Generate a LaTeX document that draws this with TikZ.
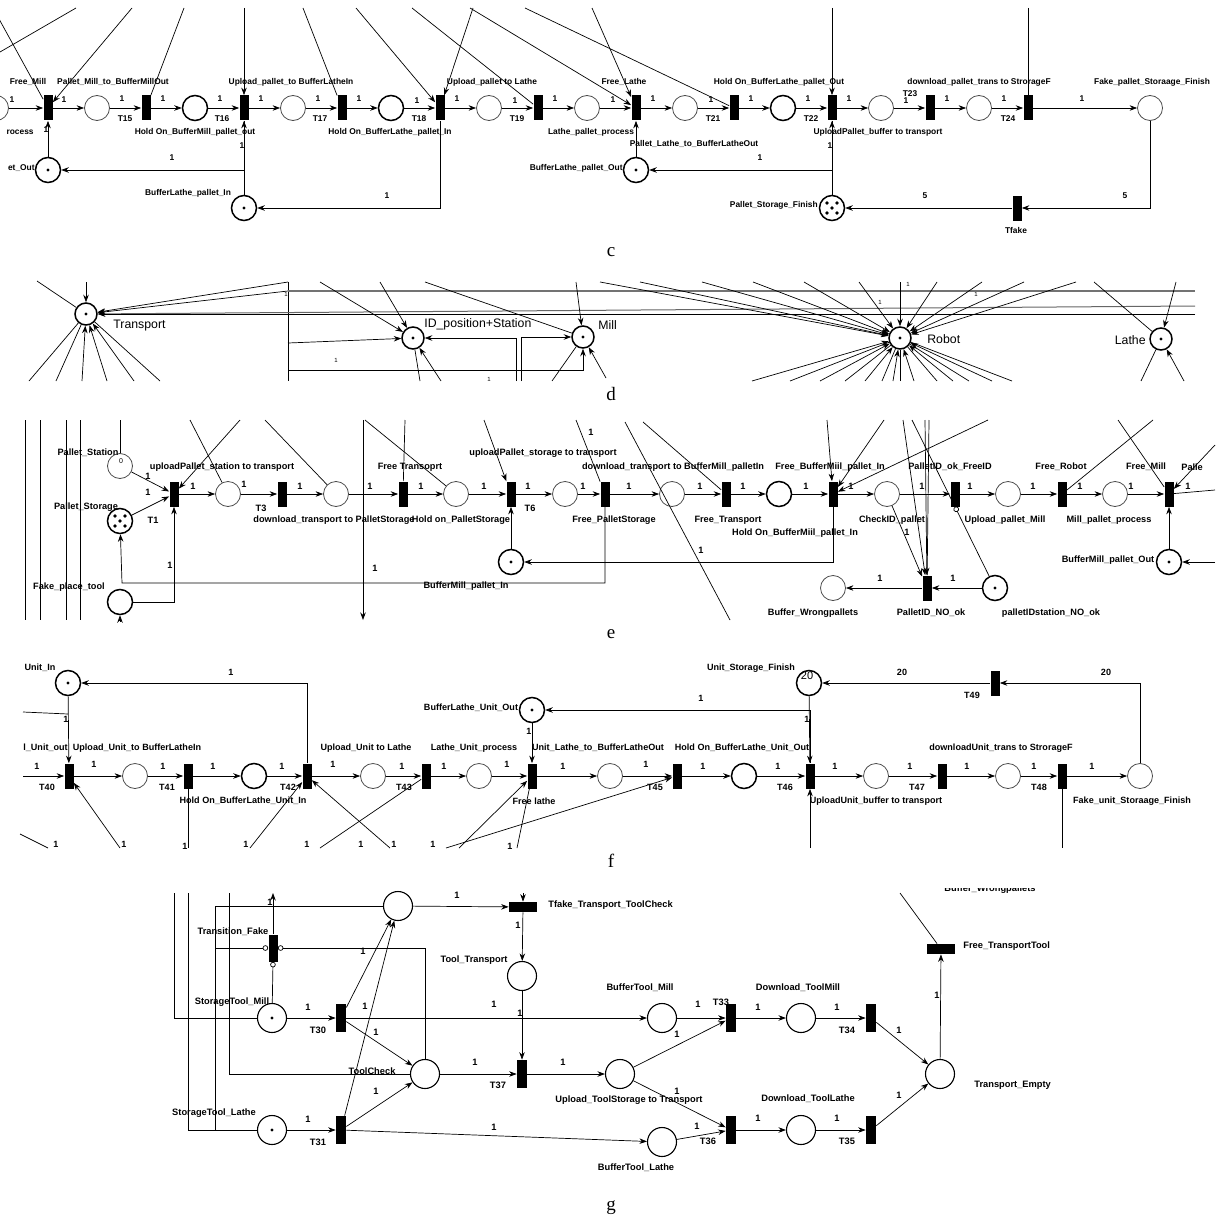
\documentclass[tikz,border=0pt]{standalone}
\usepackage{fontspec}
\setmainfont{Liberation Sans}
\newfontfamily\capfont{Liberation Serif}
\usetikzlibrary{arrows.meta}
\begin{document}
\begin{tikzpicture}[x=1pt,y=-1pt,line width=.7pt,
 pl/.style={circle,draw=black!70,line width=.8pt,minimum size=25pt,inner sep=0pt,fill=white},
 plb/.style={pl,draw=black,line width=1.5pt},
 plg/.style={pl,draw=black,line width=1.1pt,minimum size=29pt},
 tok/.style={path picture={\fill[black] (path picture bounding box.center) circle (1.7pt);}},
 five/.style={path picture={\foreach \a/\b in {0/0,5/5,5/-5,-5/5,-5/-5}{\fill[black] ([shift={(\a pt,\b pt)}]path picture bounding box.center) circle (1.9pt);}}},
 tr/.style={rectangle,fill=black,minimum width=9pt,minimum height=25pt,inner sep=0pt},
 trg/.style={tr,minimum width=10pt,minimum height=28pt},
 trh/.style={rectangle,fill=black,minimum width=28pt,minimum height=10pt,inner sep=0pt},
 lb/.style={font=\fontsize{8.4}{9}\selectfont\bfseries,inner sep=0pt},
 lbe/.style={font=\fontsize{9.2}{10}\selectfont\bfseries,inner sep=0pt},
 lbf/.style={font=\fontsize{9.05}{10}\selectfont\bfseries,inner sep=0pt},
 lbg/.style={font=\fontsize{9.3}{10}\selectfont\bfseries,inner sep=0pt},
 lbd/.style={font=\fontsize{12.3}{13}\selectfont,inner sep=0pt},
 wd/.style={font=\fontsize{6}{6}\selectfont,inner sep=0pt},
 capt/.style={font=\capfont\fontsize{19}{19}\selectfont,inner sep=0pt},
 ar/.style={-{Stealth[length=7.5pt,width=5.5pt]}},
 inh/.style={-{Circle[open,length=5.5pt,width=5.5pt]}},
]
\useasboundingbox (0,0) rectangle (1215,1220);
\fill[white] (0,0) rectangle (1215,1220);

%%%%%%%%%%%%%%%% panel c
\foreach \n/\x in {cp1/97,cp3/293,cp5/489,cp6/587,cp7/685,cp9/881,cp10/979,cp11/1150} \node[pl] (\n) at (\x,108) {};
\foreach \n/\x in {cp2/195,cp4/391,cp8/783} \node[plb] (\n) at (\x,108) {};
\node[pl] (cp0) at (-4,108) {};
\foreach \n/\x in {ct1/48,ct15/146,ct16/244,ct17/342,ct18/440,ct19/538,ct20/636,ct21/734,ct22/832,ct23/930,ct24/1028} \node[tr] (\n) at (\x,108) {};
\node[plb,tok] (cpA) at (48,170) {};
\node[plb,tok] (cpB) at (244,208) {};
\node[plb,tok] (cpC) at (636,170) {};
\node[plb,five] (cpD) at (832,208) {};
\node[tr] (ctf) at (1017,208) {};

\foreach \a/\b in {cp0/ct1,ct1/cp1,cp1/ct15,ct15/cp2,cp2/ct16,ct16/cp3,cp3/ct17,ct17/cp4,cp4/ct18,ct18/cp5,cp5/ct19,ct19/cp6,cp6/ct20,ct20/cp7,cp7/ct21,ct21/cp8,cp8/ct22,ct22/cp9,cp9/ct23,ct23/cp10,cp10/ct24,ct24/cp11,cpA/ct1,cpB/ct16,cpC/ct20,cpD/ct22,ctf/cpD} \draw[ar] (\a) -- (\b);
\draw[ar] (ct16.south) |- (cpA);
\draw[ar] (ct18.south) |- (cpB);
\draw[ar] (ct22.south) |- (cpC);
\draw[ar] (cp11.south) |- (ctf);

\foreach \n/\x/\y in {ca1/-7/8,ca2/0/52,ca3/76/8,ca4/132/8,ca5/184/8,ca6/244/8,ca7/303/8,ca8/356/8,ca9/412/8,ca10/473/8,ca11/470/8,ca12/525/8,ca13/592/8,ca14/832/8,ca15/1028/8} \coordinate (\n) at (\x,\y);
\draw (ca1) -- (ct1); \draw (ca2) -- (ca3); \draw[ar] (ca4) -- (ct1); \draw (ca5) -- (ct15);
\draw[ar] (ca6) -- (ct16); \draw (ca7) -- (ct17); \draw[ar] (ca8) -- (ct18); \draw (ca9) -- (ct19);
\draw[ar] (ca10) -- (ct18); \draw[ar] (ca11) -- (ct20); \draw (ca12) -- (ct21); \draw[ar] (ca13) -- (ct20);
\draw[ar] (ca14) -- (ct22); \draw (ca15) -- (ct24);

\foreach \x/\y/\txt [count=\i] in {28/82/Free\_Mill,113/82/Pallet\_Mill\_to\_BufferMillOut,125/119/T15,195/132/Hold On\_BufferMill\_pallet\_out,291/82/Upload\_pallet\_to BufferLatheIn,222/119/T16,320/119/T17,390/132/Hold On\_BufferLathe\_pallet\_In,419/119/T18,492/82/Upload\_pallet to Lathe,517/119/T19,591/132/Lathe\_pallet\_process,624/82/Free\_Lathe,694/144/Pallet\_Lathe\_to\_BufferLatheOut,713/119/T21,779/82/Hold On\_BufferLathe\_pallet\_Out,811/119/T22,878/132/UploadPallet\_buffer to transport,910/94/T23,979/82/download\_pallet\_trans to StrorageF,1008/119/T24,1152/82/Fake\_pallet\_Storaage\_Finish,188/193/BufferLathe\_pallet\_In,1016/230/Tfake}
 \node[lb] (cl\i) at (\x,\y) {\txt};
\node[lb,anchor=east] (clr1) at (34,132) {rocess};
\node[lb,anchor=east] (clr2) at (35,168) {et\_Out};
\node[lb,anchor=east] (clr3) at (623,168) {BufferLathe\_pallet\_Out};
\node[lb,anchor=east] (clr4) at (818,205) {Pallet\_Storage\_Finish};
\foreach \x/\y/\txt [count=\i] in {12/100/1,64/100/1,122/99/1,163/99/1,220/99/1,261/99/1,318/99/1,359/99/1,417/101/1,457/99/1,515/101/1,555/99/1,613/100/1,653/99/1,711/100/1,751/99/1,808/99/1,849/99/1,906/101/1,947/99/1,1004/99/1,1082/99/1,46/130/1,172/158/1,242/146/1,387/196/1,760/158/1,830/146/1,925/196/5,1125/196/5}
 \node[lb] (cw\i) at (\x,\y) {\txt};
\node[capt] (capc) at (611,252) {c};

%%%%%%%%%%%%%%%% panel d
\node[plb,tok,minimum size=22pt] (dp1) at (86,314) {};
\node[plb,tok,minimum size=22pt] (dp2) at (413,338) {};
\node[plb,tok,minimum size=22pt] (dp3) at (583,337) {};
\node[plb,tok,minimum size=22pt] (dp4) at (900,338) {};
\node[plb,tok,minimum size=22pt] (dp5) at (1161,339) {};
\node[lbd,anchor=west] (dlt1) at (113,326) {Transport};
\node[lbd,anchor=west] (dlt2) at (424,324) {ID\_position+Station};
\node[lbd,anchor=west] (dlt3) at (598,325) {Mill};
\node[lbd,anchor=west] (dlt4) at (927,339) {Robot};
\node[lbd,anchor=east] (dlt5) at (1146,340) {Lathe};

\coordinate (dv1) at (288,282); \coordinate (dv2) at (288,381); \draw (dv1) -- (dv2);
\coordinate (dh1a) at (288,291); \coordinate (dh1b) at (1195,291);
\draw[black!55,line width=1.3pt] (dh1a) -- (dh1b);
\coordinate (dh2) at (1195,306); \draw[ar,black!60,line width=1pt] (dh2) -- (dp1);
\coordinate (dh3) at (1195,314); \draw[ar] (dh3) -- (dp1);
\draw[ar] (dv1) -- (dp1); \draw[ar] (dh1a) -- (dp1);
\coordinate (dt1) at (86,282); \draw[ar] (dt1) -- (dp1);
\coordinate (dt2) at (37,281); \draw (dt2) -- (dp1);
\foreach \x [count=\i] in {29,56,82,107,134,160} {\coordinate (dfb\i) at (\x,381);}
\foreach \i in {1,2,6} \draw (dfb\i) -- (dp1);
\foreach \i in {3,4,5} \draw[ar] (dfb\i) -- (dp1);
\coordinate (dq1) at (320,282); \coordinate (dq2) at (380,282);
\draw[ar] (dq1) -- (dp2); \draw[ar] (dq2) -- (dp2);
\coordinate (dq3) at (288,343); \draw[ar] (dq3) -- (dp2);
\coordinate (dq4) at (516,381); \draw[ar] (dq4) |- (dp2);
\coordinate (dq5) at (420,381); \draw (dp2) -- (dq5);
\coordinate (dq6) at (441,381); \draw[ar] (dq6) -- (dp2);
\coordinate (dm1) at (576,282); \draw[ar] (dm1) -- (dp3);
\coordinate (dm2) at (425,282); \draw (dm2) -- (dp3);
\coordinate (dm3) at (521,381); \draw[ar] (dm3) |- (dp3);
\coordinate (dm4) at (288,370); \draw[ar] (dm4) -| (dp3);
\coordinate (dm5) at (552,381); \draw (dm5) -- (dp3);
\coordinate (dm6) at (606,378); \draw[ar] (dm6) -- (dp3);
\foreach \x [count=\i] in {600,640,702,753,804,859,900,937,982,1024,1076} {\coordinate (drt\i) at (\x,282); \draw[ar] (drt\i) -- (dp4);}
\foreach \x [count=\i] in {752,790,820,845,865,882,893,900,914,937,953,969,992,1012} {\coordinate (drb\i) at (\x,381);}
\foreach \i in {1,3,5,7,9,11,13} \draw[ar] (drb\i) -- (dp4);
\foreach \i in {2,4,6,8,10,12,14} \draw (drb\i) -- (dp4);
\coordinate (dl1) at (1094,282); \draw (dl1) -- (dp5);
\coordinate (dl2) at (1176,282); \draw[ar] (dl2) -- (dp5);
\coordinate (dl3) at (1141,381); \draw (dl3) -- (dp5);
\coordinate (dl4) at (1184,381); \draw[ar] (dl4) -- (dp5);
\foreach \x/\y [count=\i] in {286/294,336/360,489/379,880/302,908/284,976/294} \node[wd] (dw\i) at (\x,\y) {1};
\node[capt] (capd) at (611,394) {d};

%%%%%%%%%%%%%%%% panel e
\foreach \x [count=\i] in {25,40,66,80} {\coordinate (eva\i) at (\x,420); \coordinate (evb\i) at (\x,620); \draw (eva\i) -- (evb\i);}
\node[pl] (ep1) at (120,466) {};
\node[font=\fontsize{7}{7}\selectfont,inner sep=0pt] (ep1n) at (121,461) {0};
\node[plb,five] (ep2) at (120,521) {};
\node[tr] (et1) at (174,494) {};
\foreach \n/\x in {ep3/228,ep4/336,ep5/456,ep6/565,ep7/672,ep9/887,ep10/1008,ep11/1115} \node[pl] (\n) at (\x,494) {};
\node[plb] (ep8) at (779,494) {};
\foreach \n/\x in {et3/282,et4/403,et6/511,et7/605,et8/726,et9/833,et10/955,et11/1062,et12/1169} \node[tr] (\n) at (\x,494) {};
\node[plb,tok] (ep12) at (511,562) {};
\node[plb,tok] (ep13) at (1169,562) {};
\node[plb] (ep14) at (120,602) {};
\node[pl] (ep15) at (833,588) {};
\node[tr] (et13) at (927,588) {};
\node[plb,tok] (ep16) at (995,588) {};

\foreach \a/\b in {ep1/et1,ep2/et1,et1/ep3,ep3/et3,et3/ep4,ep4/et4,et4/ep5,ep5/et6,et6/ep6,ep6/et7,et7/ep7,ep7/et8,et8/ep8,ep8/et9,et9/ep9,ep9/et10,et10/ep10,ep10/et11,et11/ep11,ep11/et12,ep12/et6,ep9/et13,ep16/et13,et13/ep15,ep13/et12} \draw[ar] (\a) -- (\b);
\draw[ar] (et9.south) |- (ep12);
\coordinate (e583) at (122,583); \draw[ar] (et7.south) |- (e583) -- (ep2);
\draw[ar] (ep14) -| (et1.south);
\coordinate (eb1) at (120,622); \draw[ar] (eb1) -- (ep14);
\coordinate (er1) at (1215,490); \draw (et12) -- (er1);
\coordinate (er2) at (1215,562); \draw[ar] (er2) -- (ep13);
\draw[inh] (ep16) -- (et10.south);
\coordinate (eu1) at (240,420); \draw[ar] (eu1) -- (et1);
\coordinate (eu2) at (190,420); \draw (eu2) -- (ep3);
\coordinate (eu3) at (265,420); \draw (eu3) -- (ep4);
\coordinate (eu4) at (363,420); \coordinate (eu4b) at (363,620); \draw[ar] (eu4) -- (eu4b);
\coordinate (eu5) at (405,420); \draw (eu5) -- (et4);
\coordinate (eu6) at (365,420); \draw (eu6) -- (ep5);
\coordinate (eu7) at (484,420); \draw[ar] (eu7) -- (et6);
\coordinate (eu8) at (576,420); \draw (eu8) -- (et7);
\coordinate (eu9) at (625,422); \coordinate (eu9b) at (730,620); \draw (eu9) -- (eu9b);
\coordinate (eu10) at (643,422); \draw (eu10) -- (et8);
\coordinate (eu11) at (827,420); \draw[ar] (eu11) -- (et9);
\coordinate (eu12) at (884,420); \draw[ar] (eu12) -- (et9);
\coordinate (eu13) at (988,420); \draw[ar] (eu13) -- (et9);
\coordinate (eu14) at (903,420); \draw[ar] (eu14) -- (et13);
\coordinate (eu15) at (925,420); \draw[ar] (eu15) -- (et13);
\coordinate (eu16) at (929,420); \draw (eu16) -- (et13);
\coordinate (eu17) at (912,420); \draw (eu17) -- (et10.south);
\coordinate (eu18) at (1118,420); \draw (eu18) -- (et12);
\coordinate (eu19) at (1215,445); \draw[ar] (eu19) -- (et12);
\coordinate (eu20) at (1153,420); \draw (eu20) -- (et11);
\coordinate (eu21) at (120,420); \draw (eu21) -- (ep1);

\foreach \x/\y/\txt [count=\i] in {88/453/Pallet\_Station,86/507/Pallet\_Storage,222/467/uploadPallet\_station to transport,153/520/T1,261/508/T3,334/520/download\_transport to PalletStorage,410/467/Free Transoprt,461/520/Hold on\_PalletStorage,543/453/uploadPallet\_storage to transport,530/508/T6,673/467/download\_transport to BufferMill\_palletIn,614/520/Free\_PalletStorage,728/520/Free\_Transport,830/467/Free\_BufferMiil\_pallet\_In,795/533/Hold On\_BufferMiil\_pallet\_In,892/520/CheckID\_pallet,950/467/PalletID\_ok\_FreeID,1005/520/Upload\_pallet\_Mill,1061/467/Free\_Robot,1109/520/Mill\_pallet\_process,1146/467/Free\_Mill,466/586/BufferMill\_pallet\_In,1108/560/BufferMill\_pallet\_Out,69/587/Fake\_place\_tool,813/613/Buffer\_Wrongpallets,931/613/PalletID\_NO\_ok,1051/613/palletIDstation\_NO\_ok}
 \node[lbe] (el\i) at (\x,\y) {\txt};
\node[lbe,anchor=west] (elr1) at (1181,467) {Palle};
\foreach \x/\y [count=\i] in {148/476,148/492,193/486,244/484,300/486,370/486,421/486,484/486,528/486,583/486,629/486,700/486,743/486,806/486,851/486,922/486,970/486,1033/486,1080/486,1131/486,1188/486,591/432,907/532,701/550,880/578,953/578,170/565,375/568}
 \node[lbe] (ew\i) at (\x,\y) {1};
\node[capt] (cape) at (611,634) {e};

%%%%%%%%%%%%%%%% panel f
\foreach \n/\x in {ft40/69,ft41/188,ft42/307,ft43/426,ft44/532,ft45/677,ft46/810,ft47/942,ft48/1062} \node[tr] (\n) at (\x,776) {};
\foreach \n/\x in {fp1/135,fp3/373,fp4/479,fp5/610,fp7/876,fp8/1008,fp9/1140} \node[pl] (\n) at (\x,776) {};
\node[plb] (fp2) at (254,776) {}; \node[plb] (fp6) at (744,776) {};
\node[plb,tok] (fpU) at (68,683) {};
\node[plb,tok] (fpB) at (532,710) {};
\node[plb] (fpS) at (809,683) {};
\node[font=\fontsize{11}{11}\selectfont,inner sep=0pt] (fpS20) at (807,676) {20};
\node[tr] (ft49) at (995,683) {};

\coordinate (fl0) at (23,776);
\foreach \a/\b in {fl0/ft40,ft40/fp1,fp1/ft41,ft41/fp2,fp2/ft42,ft42/fp3,fp3/ft43,ft43/fp4,fp4/ft44,ft44/fp5,fp5/ft45,ft45/fp6,fp6/ft46,ft46/fp7,fp7/ft47,ft47/fp8,fp8/ft48,ft48/fp9,fpU/ft40,fpB/ft44,fpS/ft46,ft49/fpS} \draw[ar] (\a) -- (\b);
\draw[ar] (ft42.north) |- (fpU);
\draw[ar] (ft46.north) |- (fpB);
\draw[ar] (fp9.north) |- (ft49);
\coordinate (fl1) at (23,712); \coordinate (fl2) at (68,714); \draw (fl1) -- (fl2);
\coordinate (fb1) at (20,834); \coordinate (fb1b) at (48,848); \draw (fb1) -- (fb1b);
\coordinate (fb2) at (120,848); \draw[ar] (fb2) -- (ft40);
\coordinate (fb3) at (188,848); \draw (ft41) -- (fb3);
\coordinate (fb4) at (250,848); \draw[ar] (fb4) -- (ft42);
\coordinate (fb5) at (320,848); \draw (ft43) -- (fb5);
\coordinate (fb6) at (390,848); \draw[ar] (fb6) -- (ft42);
\coordinate (fb7) at (459,848); \draw[ar] (fb7) -- (ft44);
\coordinate (fb8) at (517,848); \draw (ft44) -- (fb8);
\coordinate (fb9) at (446,848); \draw[ar] (fb9) -- (ft45);
\coordinate (fb10) at (810,848); \draw[ar] (fb10) -- (ft46);
\coordinate (fb11) at (1062,848); \draw (ft48) -- (fb11);

\foreach \x/\y/\txt [count=\i] in {40/668/Unit\_In,137/748/Upload\_Unit\_to BufferLatheIn,47/787/T40,167/787/T41,243/801/Hold On\_BufferLathe\_Unit\_In,288/787/T42,366/748/Upload\_Unit to Lathe,404/787/T43,474/748/Lathe\_Unit\_process,534/801/Free lathe,598/748/Unit\_Lathe\_to\_BufferLatheOut,655/787/T45,742/748/Hold On\_BufferLathe\_Unit\_Out,785/787/T46,876/801/UploadUnit\_buffer to transport,1001/748/downloadUnit\_trans to StrorageF,917/787/T47,1039/787/T48,1132/801/Fake\_unit\_Storaage\_Finish,751/668/Unit\_Storage\_Finish,972/695/T49,471/708/BufferLathe\_Unit\_Out}
 \node[lbf] (fl\i) at (\x,\y) {\txt};
\node[lbf,anchor=east] (flr1) at (68,748) {l\_Unit\_out};
\foreach \x/\y/\txt [count=\i] in {37/766/1,94/764/1,163/766/1,213/766/1,282/766/1,333/764/1,402/766/1,444/766/1,507/764/1,563/766/1,646/764/1,703/766/1,778/766/1,835/766/1,910/766/1,967/766/1,1034/766/1,1092/766/1,66/719/1,231/672/1,529/731/1,701/698/1,807/719/1,902/672/20,1106/672/20,56/844/1,124/844/1,185/846/1,246/844/1,307/844/1,361/844/1,394/844/1,433/844/1,510/846/1}
 \node[lbf] (fw\i) at (\x,\y) {\txt};
\node[capt] (capf) at (611,861) {f};

%%%%%%%%%%%%%%%% panel g
\node[plg] (gp0) at (398,906) {};
\node[trh] (gtF) at (523,907) {};
\node[plg] (gpT) at (522,976) {};
\node[plg,tok] (gpSM) at (272,1018) {};
\node[plg,tok] (gpSL) at (272,1130) {};
\node[trg] (gt30) at (341,1018) {};
\node[trg] (gt31) at (341,1130) {};
\node[plg] (gpC) at (425,1074) {};
\node[trg] (gt37) at (522,1074) {};
\node[plg] (gpU) at (620,1074) {};
\node[plg] (gpBM) at (662,1018) {};
\node[plg] (gpBL) at (662,1142) {};
\node[trg] (gt33) at (731,1018) {};
\node[trg] (gt36) at (731,1130) {};
\node[plg] (gpDM) at (801,1018) {};
\node[plg] (gpDL) at (801,1130) {};
\node[trg] (gt34) at (871,1018) {};
\node[trg] (gt35) at (871,1130) {};
\node[plg] (gpE) at (940,1074) {};
\node[trh] (gtFT) at (941,949) {};
\node[tr,minimum height=27pt] (gtX) at (273,948) {};

\foreach \a/\b in {gpSM/gt30,gpSL/gt31,gt30/gp0,gt31/gp0,gt30/gpC,gt31/gpC,gt30/gpBM,gt31/gpBL,gp0/gtF,gtF/gpT,gpT/gt37,gpC/gt37,gt37/gpU,gpU/gt33,gpU/gt36,gpBM/gt33,gpBL/gt36,gt33/gpDM,gpDM/gt34,gt36/gpDL,gpDL/gt35,gt34/gpE,gt35/gpE,gpE/gtFT} \draw[ar] (\a) -- (\b);
\coordinate (gtop1) at (523,893); \draw[ar] (gtop1) -- (gtF);
\coordinate (gtop2) at (900,893); \draw (gtop2) -- (gtFT);
\coordinate (gtop3) at (273,893); \draw[ar] (gtX) -- (gtop3);
\draw[inh] (gpSM) -- (gtX.south);
\draw[inh] (gpC.north) |- (gtX.east);
\coordinate (gw1) at (215,948); \draw[inh] (gw1) -- (gtX.west);
\coordinate (gl1) at (174,893); \draw (gl1) |- (gpSM);
\coordinate (gl2) at (188,893); \draw (gl2) |- (gpSL);
\coordinate (gl3) at (215,1130); \draw (gp0) -| (gl3);
\coordinate (gl4) at (229,893); \draw (gl4) |- (gpC);
\begin{scope}
\clip (900,888.5) rectangle (1100,899);
\node[lbg] (gclip) at (990,889) {Buffer\_Wrongpallets};
\end{scope}

\foreach \x/\y/\txt [count=\i] in {233/932/Transition\_Fake,232/1002/StorageTool\_Mill,214/1113/StorageTool\_Lathe,318/1030/T30,318/1142/T31,372/1071/ToolCheck,474/960/Tool\_Transport,498/1085/T37,629/1100/Upload\_ToolStorage to Transport,640/988/BufferTool\_Mill,636/1168/BufferTool\_Lathe,721/1002/T33,708/1141/T36,798/988/Download\_ToolMill,808/1099/Download\_ToolLathe,847/1030/T34,847/1141/T35}
 \node[lbg] (gl\i) at (\x,\y) {\txt};
\node[lbg,anchor=west] (glr1) at (548,905) {Tfake\_Transport\_ToolCheck};
\node[lbg,anchor=west] (glr2) at (974,1085) {Transport\_Empty};
\node[lbg,anchor=west] (glr3) at (963,946) {Free\_TransportTool};
\foreach \x/\y [count=\i] in {270/902,457/895,518/925,308/1007,365/1006,376/1032,494/1004,520/1013,475/1062,563/1062,308/1119,376/1091,494/1127,363/951,698/1004,677/1034,758/1007,837/1007,899/1030,899/1095,937/995,677/1091,697/1126,758/1118,837/1118}
 \node[lbg] (gw\i) at (\x,\y) {1};
\node[capt] (capg) at (611,1208) {g};
\end{tikzpicture}
\end{document}
